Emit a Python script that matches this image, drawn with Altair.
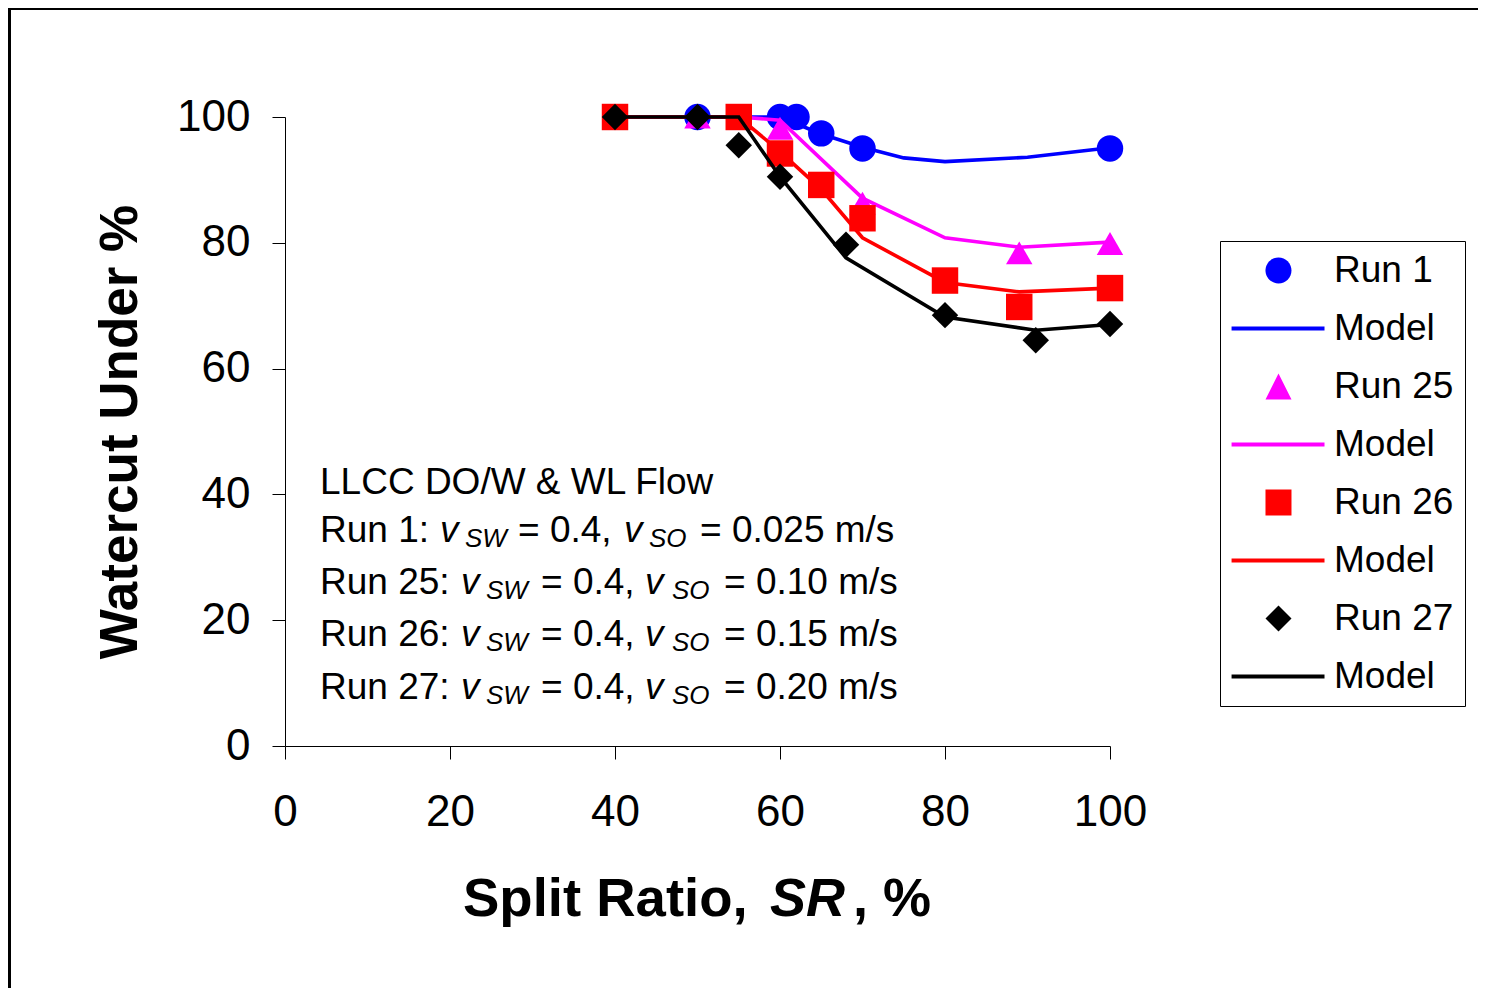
import altair as alt
import pandas as pd

# ---------------- data ----------------
run1_x = [50, 60, 62, 65, 70, 100]
run1_y = [100, 100, 100, 97.4, 95.0, 95.0]
model1_x = [40, 50, 55, 60, 65, 70, 75, 80, 90, 100]
model1_y = [100, 100, 100, 100, 97.3, 95.2, 93.5, 92.9, 93.6, 95.1]

run25_x = [50, 60, 70, 89, 100]
run25_y = [100, 98.2, 86.3, 78.4, 79.9]
model25_x = [40, 50, 55, 60, 70, 80, 89, 100]
model25_y = [100, 100, 100, 99.5, 87.1, 80.8, 79.3, 80.1]

run26_x = [40, 55, 60, 65, 70, 80, 89, 100]
run26_y = [100, 100, 94.2, 89.2, 83.9, 74.0, 69.8, 72.8]
model26_x = [40, 50, 55, 60, 65, 70, 80, 89, 100]
model26_y = [100, 100, 100, 94.5, 88.5, 80.8, 73.7, 72.2, 72.8]

run27_x = [40, 50, 55, 60, 68, 80, 91, 100]
run27_y = [100, 100, 95.5, 90.5, 79.7, 68.5, 64.5, 67.1]
model27_x = [40, 50, 55, 60, 68, 80, 91, 100]
model27_y = [100, 100, 100, 90.5, 77.6, 68.2, 66.1, 67.0]

x_ticks = [0, 20, 40, 60, 80, 100]
y_ticks = [0, 20, 40, 60, 80, 100]

legend_keys = ["Run 1", "Model 1", "Run 25", "Model 25", "Run 26", "Model 26", "Run 27", "Model 27"]
series_colors = ["#0000FF", "#0000FF", "#FF00FF", "#FF00FF", "#FF0000", "#FF0000", "#000000", "#000000"]

run_labels = ["Run 1:", "Run 25:", "Run 26:", "Run 27:"]
vso_texts = ["= 0.025 m/s", "= 0.10 m/s", "= 0.15 m/s", "= 0.20 m/s"]
header_text = "LLCC DO/W & WL Flow"

# ---------------- tables ----------------
def table(name, xs, ys):
    return pd.DataFrame({"series": name, "x": xs, "y": ys})

points = pd.concat([
    table("Run 1", run1_x, run1_y),
    table("Run 25", run25_x, run25_y),
    table("Run 26", run26_x, run26_y),
    table("Run 27", run27_x, run27_y),
], ignore_index=True)

models = pd.concat([
    table("Model 1", model1_x, model1_y),
    table("Model 25", model25_x, model25_y),
    table("Model 26", model26_x, model26_y),
    table("Model 27", model27_x, model27_y),
], ignore_index=True)

FONT = "Liberation Sans, Arial, sans-serif"
PX0, PY0 = 285, 117          # plot origin on the page
W, H = 825, 629

x_enc = alt.X("x:Q", scale=alt.Scale(domain=[0, 100], nice=False),
              axis=alt.Axis(values=x_ticks, title=None, grid=False,
                            domainColor="black", tickColor="black", tickSize=13,
                            labelFontSize=44, labelFont=FONT, labelColor="black",
                            labelPadding=31, labelFlush=False, labelOverlap=False))
y_enc = alt.Y("y:Q", scale=alt.Scale(domain=[0, 100], nice=False),
              axis=alt.Axis(values=y_ticks, title="Watercut Under %", grid=False,
                            domainColor="black", tickColor="black", tickSize=13,
                            labelFontSize=44, labelFont=FONT, labelColor="black",
                            labelPadding=22, labelOverlap=False,
                            titleFont=FONT, titleFontSize=53, titleFontWeight="bold",
                            titleColor="black", titleX=-165, titleY=314.5,
                            titleAngle=-90, titleBaseline="middle", titleAlign="center"))

layers = []
styles = [("Run 1", "Model 1", "circle", "#0000FF"),
          ("Run 25", "Model 25", "triangle-up", "#FF00FF"),
          ("Run 26", "Model 26", "square", "#FF0000"),
          ("Run 27", "Model 27", "diamond", "#000000")]
for run, model, shape, color in styles:
    layers.append(
        alt.Chart(points).transform_filter(alt.datum.series == run)
        .mark_point(shape=shape, filled=True, size=700, color=color, opacity=1, strokeWidth=0)
        .encode(x=x_enc, y=y_enc)
    )
    layers.append(
        alt.Chart(models).transform_filter(alt.datum.series == model)
        .mark_line(color=color, strokeWidth=3.6)
        .encode(x=x_enc, y=y_enc)
    )

# legend driven by an empty layer (scales with explicit domains)
c = 2.23
line_path = "M-1.38,-0.15H5.77V0.15H-1.38Z"
legend_shapes = [
    f"M{c+1},0A1,1,0,1,1,{c-1},0A1,1,0,1,1,{c+1},0Z",
    line_path,
    f"M{c},-1L{c+1},1L{c-1},1Z",
    line_path,
    f"M{c-1},-1H{c+1}V1H{c-1}Z",
    line_path,
    f"M{c},-1L{c+1},0L{c},1L{c-1},0Z",
    line_path,
]
leg_args = dict(title=None, orient="none", legendX=1220 - PX0, legendY=241 - PY0,
                labelExpr="indexof(datum.label, 'Model') == 0 ? 'Model' : datum.label")
legend_layer = (
    alt.Chart(points).transform_filter("false")
    .mark_point(filled=True, opacity=1)
    .encode(
        x=x_enc, y=y_enc,
        color=alt.Color("series:N", scale=alt.Scale(domain=legend_keys, range=series_colors),
                        legend=alt.Legend(**leg_args)),
        shape=alt.Shape("series:N", scale=alt.Scale(domain=legend_keys, range=legend_shapes),
                        legend=alt.Legend(**leg_args)),
    )
)
layers.append(legend_layer)

# ---------------- text ----------------
dummy = pd.DataFrame({"a": [0]})


def txt(s, px, py, size, style="normal", weight="normal"):
    return (alt.Chart(dummy)
            .mark_text(text=s, align="left", baseline="alphabetic", fontSize=size, font=FONT,
                       fontStyle=style, fontWeight=weight, color="black")
            .encode(x=alt.value(px - PX0), y=alt.value(py - PY0)))


layers.append(txt(header_text, 320, 494, 37))
base_lines = [542, 594, 646, 699]
for i, (rl, vt) in enumerate(zip(run_labels, vso_texts)):
    by = base_lines[i]
    if i == 0:
        xs = [440, 465, 518, 624, 649, 700]
    else:
        xs = [461, 486, 541, 645, 672, 724]
    layers.append(txt(rl, 320, by, 37))
    layers.append(txt("v", xs[0], by, 37, "italic"))
    layers.append(txt("SW", xs[1], by + 5, 26, "italic"))
    layers.append(txt("= 0.4,", xs[2], by, 37))
    layers.append(txt("v", xs[3], by, 37, "italic"))
    layers.append(txt("SO", xs[4], by + 5, 26, "italic"))
    layers.append(txt(vt, xs[5], by, 37))

# x-axis title with italic SR
layers.append(txt("Split Ratio,", 463, 916, 54.5, weight="bold"))
layers.append(txt("SR", 770, 916, 54, style="italic", weight="bold"))
layers.append(txt(", %", 853, 916, 54, weight="bold"))

# slide frame edges (black strip at top and left)
layers.append(alt.Chart(dummy).mark_rule(color="black", strokeWidth=2)
              .encode(x=alt.value(-277), x2=alt.value(1193), y=alt.value(-108)))
layers.append(alt.Chart(dummy).mark_rule(color="black", strokeWidth=3)
              .encode(x=alt.value(-275.5), y=alt.value(-109), y2=alt.value(871)))

chart = (
    alt.layer(*layers)
    .properties(width=W, height=H, autosize=alt.AutoSizeParams(type="none"),
                padding={"left": 277, "top": 109, "right": 368, "bottom": 242},
                background="white")
    .configure_view(stroke=None)
    .configure_legend(padding=11, strokeColor="black", strokeWidth=1, fillColor="white",
                      symbolSize=676, symbolStrokeWidth=0, symbolOpacity=1,
                      labelFontSize=37, labelFont=FONT, labelColor="black",
                      labelOffset=66, rowPadding=20, labelLimit=0, cornerRadius=0)
)

chart.save("out.html", embed_options={"renderer": "svg", "actions": False})
